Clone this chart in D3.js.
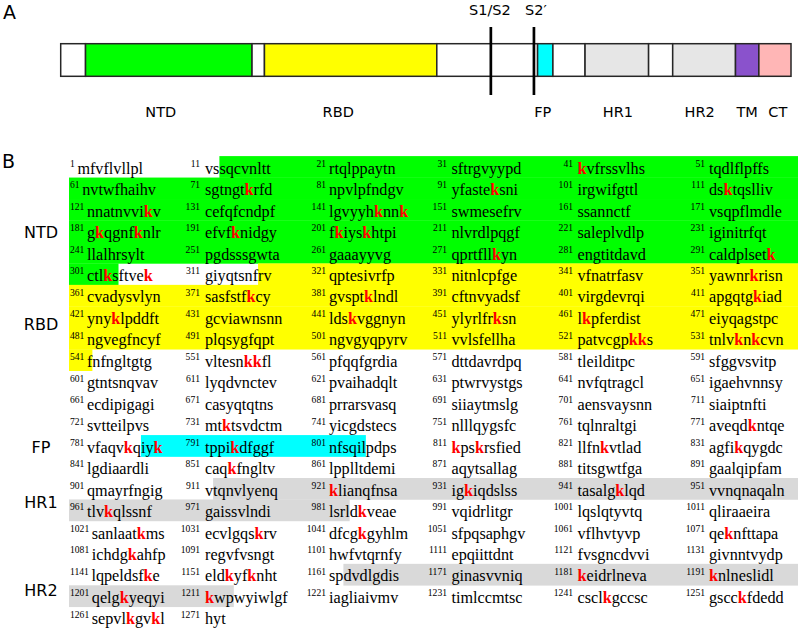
<!DOCTYPE html>
<html><head><meta charset="utf-8">
<script src="https://cdn.jsdelivr.net/npm/d3@7"></script>
<style>
body{margin:0;background:#fff} svg{display:block}
.serif{font-family:"Liberation Serif","Times New Roman","DejaVu Serif",serif}
.sans{font-family:Verdana,"DejaVu Sans",sans-serif}
</style>
</head><body><svg id="fig" width="800" height="634"></svg>
<script>
// ---------- Panel A data (schematic units 0..1000) ----------
const segBounds = [0, 34, 262, 279, 515, 653, 674, 718, 805, 838, 924, 956, 1000];
const segKinds  = ["none","NTD","none","RBD","none","FP","none","HR1","none","HR2","TM","CT"];
const labelNamesA = ["NTD","RBD","FP","HR1","HR2","TM","CT"];
const labelPosA   = [137, 380, 660, 763, 875, 940, 982];
const cleavageNames = ["S1/S2","S2\u2032"];
const cleavagePos   = [589, 648];

// ---------- Panel B data ----------
const seqBlocks = [
 "mfvflvllpl","vssqcvnltt","rtqlppaytn","sftrgvyypd","kvfrssvlhs","tqdlflpffs",
 "nvtwfhaihv","sgtngtkrfd","npvlpfndgv","yfasteksni","irgwifgttl","dsktqslliv",
 "nnatnvvikv","cefqfcndpf","lgvyyhknnk","swmesefrv","ssannctf","vsqpflmdle",
 "gkqgnfknlr","efvfknidgy","fkiyskhtpi","nlvrdlpqgf","saleplvdlp","iginitrfqt",
 "llalhrsylt","pgdsssgwta","gaaayyvg","qprtfllkyn","engtitdavd","caldplsetk",
 "ctlksftvek","giyqtsnfrv","qptesivrfp","nitnlcpfge","vfnatrfasv","yawnrkrisn",
 "cvadysvlyn","sasfstfkcy","gvsptklndl","cftnvyadsf","virgdevrqi","apgqtgkiad",
 "ynyklpddft","gcviawnsnn","ldskvggnyn","ylyrlfrksn","lkpferdist","eiyqagstpc",
 "ngvegfncyf","plqsygfqpt","ngvgyqpyrv","vvlsfellha","patvcgpkks","tnlvknkcvn",
 "fnfngltgtg","vltesnkkfl","pfqqfgrdia","dttdavrdpq","tleilditpc","sfggvsvitp",
 "gtntsnqvav","lyqdvnctev","pvaihadqlt","ptwrvystgs","nvfqtragcl","igaehvnnsy",
 "ecdipigagi","casyqtqtns","prrarsvasq","siiaytmslg","aensvaysnn","siaiptnfti",
 "svtteilpvs","mtktsvdctm","yicgdstecs","nlllqygsfc","tqlnraltgi","aveqdkntqe",
 "vfaqvkqiyk","tppikdfggf","nfsqilpdps","kpskrsfied","llfnkvtlad","agfikqygdc",
 "lgdiaardli","caqkfngltv","lpplltdemi","aqytsallag","titsgwtfga","gaalqipfam",
 "qmayrfngig","vtqnvlyenq","klianqfnsa","igkiqdslss","tasalgklqd","vvnqnaqaln",
 "tlvkqlssnf","gaissvlndi","lsrldkveae","vqidrlitgr","lqslqtyvtq","qliraaeira",
 "sanlaatkms","ecvlgqskrv","dfcgkgyhlm","sfpqsaphgv","vflhvtyvp","qeknfttapa",
 "ichdgkahfp","regvfvsngt","hwfvtqrnfy","epqiittdnt","fvsgncdvvi","givnntvydp",
 "lqpeldsfke","eldkyfknht","spdvdlgdis","ginasvvniq","keidrlneva","knlneslidl",
 "qelgkyeqyi","kwpwyiwlgf","iagliaivmv","timlccmtsc","csclkgccsc","gscckfdedd",
 "sepvlkgvkl","hyt"
];
const blockNumbers = d3.range(1, 1272, 10);
const totalResidues = 1273;
const hlNames = ["NTD","RBD","FP","HR1","HR2"];
const hlFrom  = [13, 319, 788, 912, 1163];
const hlTo    = [305, 541, 806, 984, 1213];
const sideLabelRows = [3, 7.28, 13, 15.58, 19.68];

// ---------- styles ----------
const colorsA = {none:"#ffffff", NTD:"#00ff00", RBD:"#ffff00", FP:"#00ffff", HR1:"#e6e6e6", HR2:"#e6e6e6", TM:"#8a52cc", CT:"#ffb6b6"};
const colorsB = {NTD:"#00ff00", RBD:"#ffff00", FP:"#00ffff", HR1:"#d9d9d9", HR2:"#d9d9d9"};

const svg = d3.select("#fig");

// ---------- Panel A ----------
const xA = d3.scaleLinear().domain([0, 1000]).range([60.7, 791]);
const barTop = 43.7, barH = 32.6;
svg.append("text").attr("class","sans").attr("x", 3).attr("y", 18.5).attr("font-size", 19).text("A");
const gA = svg.append("g");
gA.selectAll("rect.seg").data(segKinds).join("rect")
  .attr("class","seg")
  .attr("x", (d,i) => xA(segBounds[i]))
  .attr("width", (d,i) => xA(segBounds[i+1]) - xA(segBounds[i]))
  .attr("y", barTop).attr("height", barH)
  .attr("fill", d => colorsA[d]).attr("stroke", "#262626").attr("stroke-width", 1.5);
gA.selectAll("line.cl").data(cleavagePos).join("line")
  .attr("class","cl")
  .attr("x1", d => xA(d)).attr("x2", d => xA(d))
  .attr("y1", 27).attr("y2", 95).attr("stroke", "#000").attr("stroke-width", 2.7);
gA.selectAll("text.cl").data(cleavageNames).join("text")
  .attr("class","cl sans")
  .attr("x", (d,i) => xA(cleavagePos[i]) + (i === 0 ? -1 : 2)).attr("y", 15)
  .attr("text-anchor","middle").attr("font-size", 14.5).text(d => d);
gA.selectAll("text.lab").data(labelNamesA).join("text")
  .attr("class","lab sans")
  .attr("x", (d,i) => xA(labelPosA[i])).attr("y", 117)
  .attr("text-anchor","middle").attr("font-size", 14.5).text(d => d);

// ---------- Panel B ----------
svg.append("text").attr("class","sans").attr("x", 2).attr("y", 168).attr("font-size", 19).text("B");
const rowY = d3.scaleLinear().domain([0, 1]).range([173.7, 195.16]);
const rowH = rowY(1) - rowY(0);
const colTextX = [null, 205, 329, 451.5, 577.5, 709];
const colNumEnd = [70, 200, 326, 447, 573, 705];
const rowLeft = 69, rowRight = 798;
const perRow = 6;

const hlLayer = svg.append("g");
const txtLayer = svg.append("g");

const seqEls = [];
seqBlocks.forEach((s, b) => {
  const row = Math.floor(b / perRow), col = b % perRow;
  const y = rowY(row);
  const num = txtLayer.append("text").attr("class","serif")
    .attr("y", y - 6.7).attr("font-size", 9.6)
    .text(blockNumbers[b]);
  let tx;
  if (col === 0) {
    num.attr("x", colNumEnd[0]);
    tx = colNumEnd[0] + num.node().getComputedTextLength() + 2.6;
  } else {
    num.attr("x", colNumEnd[col]).attr("text-anchor", "end");
    tx = colTextX[col];
  }
  const t = txtLayer.append("text").attr("class","serif").attr("x", tx).attr("y", y)
    .attr("font-size", 16.2).attr("fill", "#000");
  const runs = s.match(/k+|[^k]+/g) || [];
  runs.forEach(r => {
    const ts = t.append("tspan").text(r);
    if (r[0] === "k") ts.attr("fill", "#ff0000").attr("font-weight", "bold");
  });
  seqEls.push(t);
});

function charEdge(res, end) {
  const b = Math.floor((res - 1) / 10), i = (res - 1) % 10;
  const ext = seqEls[b].node().getExtentOfChar(i);
  return end ? ext.x + ext.width : ext.x;
}
const nRows = Math.ceil(seqBlocks.length / perRow);
const bands = [];
hlNames.forEach((name, k) => {
  for (let r = 0; r < nRows; r++) {
    const first = blockNumbers[r * perRow];
    const last = (r + 1) * perRow < blockNumbers.length ? blockNumbers[(r + 1) * perRow] - 1 : totalResidues;
    if (hlTo[k] < first || hlFrom[k] > last) continue;
    const x0 = hlFrom[k] >= first ? charEdge(hlFrom[k], false) : rowLeft;
    const x1 = hlTo[k] <= last ? charEdge(hlTo[k], true) : rowRight;
    bands.push({name, r, x0, x1});
  }
});
hlLayer.selectAll("rect").data(bands).join("rect")
  .attr("x", d => d.x0).attr("width", d => d.x1 - d.x0)
  .attr("y", d => rowY(d.r) - 17.6).attr("height", rowH + 0.3)
  .attr("fill", d => colorsB[d.name]);

svg.append("g").selectAll("text").data(hlNames).join("text")
  .attr("class","sans")
  .attr("x", 41).attr("y", (d,i) => rowY(sideLabelRows[i]))
  .attr("text-anchor","middle").attr("font-size", 16).text(d => d);
</script></body></html>
